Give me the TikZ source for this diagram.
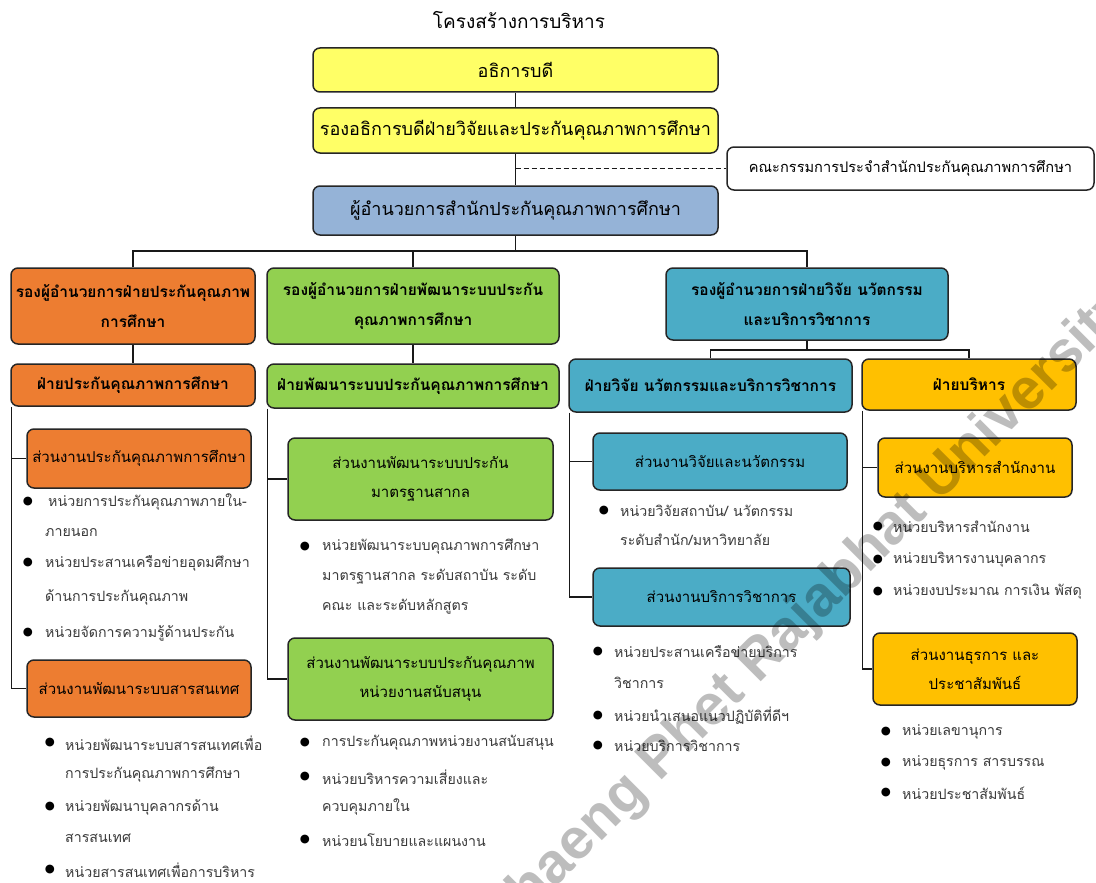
\documentclass[tikz,border=0pt]{standalone}
\usepackage{fontspec}
\newfontfamily\thai[Script=Thai]{Loma}
\newfontfamily\dejavu{DejaVu Sans}
\newfontfamily\wmfont{Liberation Sans}
\definecolor{ylw}{HTML}{FFFF66}
\definecolor{gblue}{HTML}{95B3D7}
\definecolor{orng}{HTML}{ED7D31}
\definecolor{grn}{HTML}{92D050}
\definecolor{teal}{HTML}{4BACC6}
\definecolor{gold}{HTML}{FFC000}
\definecolor{itemtxt}{HTML}{3A3A3A}
\tikzset{
  box/.style={draw=black!85, line width=1.5pt, rounded corners=7pt, align=center, inner sep=0pt, text=black},
  tb/.style={box, font=\thai\fontsize{18}{26}\selectfont},
  bb/.style={box, font=\thai\bfseries\fontsize{15.5}{30}\selectfont},
  sb/.style={box, font=\thai\fontsize{15}{29}\selectfont},
  item/.style={anchor=west, inner sep=0pt, font=\thai\fontsize{14.2}{16}\selectfont, text=itemtxt},
  dot/.style={inner sep=0pt, font=\dejavu\fontsize{11.5}{12}\selectfont},
  conn/.style={draw=black!90, line width=1.2pt},
}
\begin{document}
\begin{tikzpicture}[x=1pt,y=-1pt]
\useasboundingbox[fill=white] (0,0) rectangle (1096,883);

\node[font=\thai\fontsize{19}{22}\selectfont, inner sep=0pt] (title) at (519,20) {โครงสร้างการบริหาร};

% top chain
\node[tb, fill=ylw, minimum width=405, minimum height=44] (A) at (515.5,70) {อธิการบดี};
\node[tb, fill=ylw, minimum width=405, minimum height=45] (B) at (515.5,130.5) {รองอธิการบดีฝ่ายวิจัยและประกันคุณภาพการศึกษา};
\node[box, fill=white, minimum width=367, minimum height=43, font=\thai\fontsize{14.6}{16}\selectfont] (C) at (910.5,168.5) {คณะกรรมการประจำสำนักประกันคุณภาพการศึกษา};
\node[tb, fill=gblue, minimum width=405, minimum height=49] (D) at (515.5,210.5) {ผู้อำนวยการสำนักประกันคุณภาพการศึกษา};

\draw[conn] (A.south) -- (B.north);
\draw[conn] (B.south) -- (D.north);
\draw[conn, dashed, dash pattern=on 5pt off 3pt] (B.south |- C.west) -- (C.west);

% deputy directors
\node[bb, fill=orng, minimum width=244, minimum height=76] (E1) at (133,306) {รองผู้อำนวยการฝ่ายประกันคุณภาพ\\การศึกษา};
\node[bb, fill=grn, minimum width=292, minimum height=76] (E2) at (413,306) {รองผู้อำนวยการฝ่ายพัฒนาระบบประกัน\\คุณภาพการศึกษา};
\node[bb, fill=teal, minimum width=282, minimum height=72] (E3) at (807,304) {รองผู้อำนวยการฝ่ายวิจัย นวัตกรรม\\และบริการวิชาการ};

\coordinate (busY) at (0,251);
\draw[conn] (D.south) -- (D.south |- busY);
\draw[conn] (E1.north) -- (E1.north |- busY) -- (E3.north |- busY) -- (E3.north);
\draw[conn] (E2.north) -- (E2.north |- busY);

% divisions
\node[bb, fill=orng, minimum width=244, minimum height=42] (F1) at (133,385) {ฝ่ายประกันคุณภาพการศึกษา};
\node[bb, fill=grn, minimum width=292, minimum height=44] (F2) at (413,386) {ฝ่ายพัฒนาระบบประกันคุณภาพการศึกษา};
\node[bb, fill=teal, minimum width=283, minimum height=53] (F3) at (710.5,385.5) {ฝ่ายวิจัย นวัตกรรมและบริการวิชาการ};
\node[bb, fill=gold, minimum width=214, minimum height=51] (F4) at (969,384.5) {ฝ่ายบริหาร};

\draw[conn] (E1.south) -- (F1.north);
\draw[conn] (E2.south) -- (F2.north);
\coordinate (bus2) at (0,350);
\draw[conn] (E3.south) -- (E3.south |- bus2);
\draw[conn] (F3.north) -- (F3.north |- bus2) -- (F4.north |- bus2) -- (F4.north);

% column 1
\node[sb, fill=orng, minimum width=224, minimum height=59] (G1) at (139,458.5) {ส่วนงานประกันคุณภาพการศึกษา};
\node[sb, fill=orng, minimum width=224, minimum height=57] (G2) at (139,688.5) {ส่วนงานพัฒนาระบบสารสนเทศ};
\draw[conn] ([xshift=1pt]F1.south west) |- (G1.west);
\draw[conn] ([xshift=1pt]F1.south west) |- (G2.west);

\node[dot] (d11) at (28,502) {●};
\node[item] (t11) at (48,502) {หน่วยการประกันคุณภาพภายใน-};
\node[item] (t12) at (45,533) {ภายนอก};
\node[dot] (d13) at (28,563) {●};
\node[item] (t13) at (45,563) {หน่วยประสานเครือข่ายอุดมศึกษา};
\node[item] (t14) at (45,597) {ด้านการประกันคุณภาพ};
\node[dot] (d15) at (28,633) {●};
\node[item] (t15) at (45,633) {หน่วยจัดการความรู้ด้านประกัน};

\node[dot] (d21) at (50,743) {●};
\node[item] (t21) at (65,743) {หน่วยพัฒนาระบบสารสนเทศเพื่อ};
\node[item] (t22) at (65,775) {การประกันคุณภาพการศึกษา};
\node[dot] (d23) at (50,807) {●};
\node[item] (t23) at (65,807) {หน่วยพัฒนาบุคลากรด้าน};
\node[item] (t24) at (65,838) {สารสนเทศ};
\node[dot] (d25) at (50,870) {●};
\node[item] (t25) at (65,870) {หน่วยสารสนเทศเพื่อการบริหาร};

% column 2
\node[sb, fill=grn, minimum width=265, minimum height=82] (H1) at (420.5,479) {ส่วนงานพัฒนาระบบประกัน\\มาตรฐานสากล};
\node[sb, fill=grn, minimum width=265, minimum height=82] (H2) at (420.5,679) {ส่วนงานพัฒนาระบบประกันคุณภาพ\\หน่วยงานสนับสนุน};
\draw[conn] ([xshift=1pt]F2.south west) |- (H1.west);
\draw[conn] ([xshift=1pt]F2.south west) |- (H2.west);

\node[dot] (d31) at (305,547) {●};
\node[item] (t31) at (322,547) {หน่วยพัฒนาระบบคุณภาพการศึกษา};
\node[item] (t32) at (322,577) {มาตรฐานสากล ระดับสถาบัน ระดับ};
\node[item] (t33) at (322,607) {คณะ และระดับหลักสูตร};

\node[dot] (d41) at (305,743) {●};
\node[item] (t41) at (322,743) {การประกันคุณภาพหน่วยงานสนับสนุน};
\node[dot] (d42) at (305,777) {●};
\node[item] (t42) at (322,777) {หน่วยบริหารความเสี่ยงและ};
\node[item] (t43) at (322,807) {ควบคุมภายใน};
\node[dot] (d44) at (305,840) {●};
\node[item] (t44) at (322,840) {หน่วยนโยบายและแผนงาน};

% column 3
\node[sb, fill=teal, minimum width=254, minimum height=57] (I1) at (720,461.5) {ส่วนงานวิจัยและนวัตกรรม};
\node[sb, fill=teal, minimum width=257, minimum height=58] (I2) at (721.5,597) {ส่วนงานบริการวิชาการ};
\draw[conn] ([xshift=1pt]F3.south west) |- (I1.west);
\draw[conn] ([xshift=1pt]F3.south west) |- (I2.west);

\node[dot] (d51) at (604,511) {●};
\node[item] (t51) at (620,511) {หน่วยวิจัยสถาบัน/ นวัตกรรม};
\node[item] (t52) at (620,540) {ระดับสำนัก/มหาวิทยาลัย};

\node[dot] (d61) at (598,652) {●};
\node[item] (t61) at (614,652) {หน่วยประสานเครือข่ายบริการ};
\node[item] (t62) at (614,683) {วิชาการ};
\node[dot] (d63) at (598,716) {●};
\node[item] (t63) at (614,716) {หน่วยนำเสนอแนวปฏิบัติที่ดีฯ};
\node[dot] (d64) at (598,746) {●};
\node[item] (t64) at (614,746) {หน่วยบริการวิชาการ};

% column 4
\node[sb, fill=gold, minimum width=194, minimum height=59] (J1) at (975,467.5) {ส่วนงานบริหารสำนักงาน};
\node[sb, fill=gold, minimum width=204, minimum height=72] (J2) at (975,669) {ส่วนงานธุรการ และ\\ประชาสัมพันธ์};
\draw[conn] ([xshift=1pt]F4.south west) |- (J1.west);
\draw[conn] ([xshift=1pt]F4.south west) |- (J2.west);

\node[dot] (d71) at (878,527) {●};
\node[item] (t71) at (893,527) {หน่วยบริหารสำนักงาน};
\node[dot] (d72) at (878,560) {●};
\node[item] (t72) at (893,560) {หน่วยบริหารงานบุคลากร};
\node[dot] (d73) at (878,592) {●};
\node[item] (t73) at (893,592) {หน่วยงบประมาณ การเงิน พัสดุ};

\node[dot] (d81) at (886,732) {●};
\node[item] (t81) at (902,732) {หน่วยเลขานุการ};
\node[dot] (d82) at (886,763) {●};
\node[item] (t82) at (902,763) {หน่วยธุรการ สารบรรณ};
\node[dot] (d83) at (886,793) {●};
\node[item] (t83) at (902,793) {หน่วยประชาสัมพันธ์};

% watermark
\begin{scope}
\clip (0,0) rectangle (1096,883);
\node[rotate=45, inner sep=0pt, font=\wmfont\bfseries\fontsize{57}{60}\selectfont, text=black, opacity=0.26] (wm) at (766,656) {Kamphaeng Phet Rajabhat University};
\end{scope}
\end{tikzpicture}
\end{document}
